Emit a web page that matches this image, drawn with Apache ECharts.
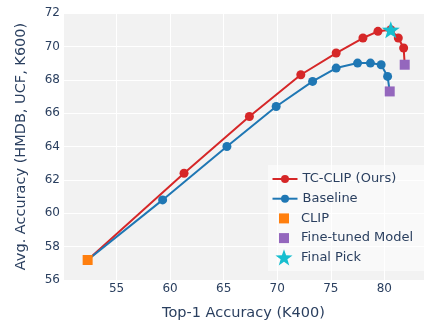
<!DOCTYPE html>
<html>
<head>
<meta charset="utf-8">
<script src="https://cdn.jsdelivr.net/npm/echarts@6/dist/echarts.min.js"></script>
<style>html,body{margin:0;padding:0;background:#fff;}#c{width:424px;height:320px;}</style>
</head>
<body>
<div id="c"></div>
<script>
// Data
const tcX = [52.3, 61.3, 67.4, 72.2, 75.5, 78.0, 79.4, 80.6, 81.3, 81.8, 81.9];
const tcY = [57.2, 62.4, 65.8, 68.3, 69.6, 70.5, 70.9, 71.0, 70.5, 69.9, 68.9];
const baseX = [52.3, 59.3, 65.3, 69.9, 73.3, 75.5, 77.5, 78.7, 79.7, 80.3, 80.5];
const baseY = [57.2, 60.8, 64.0, 66.4, 67.9, 68.7, 69.0, 69.0, 68.9, 68.2, 67.3];
const clipPt = [[52.3, 57.2]];
const finetunedPts = [[81.9, 68.9], [80.5, 67.3]];
const finalPick = [[80.6, 71.0]];
const legendNames = ['TC-CLIP (Ours)', 'Baseline', 'CLIP', 'Fine-tuned Model', 'Final Pick'];

const FONT = 'DejaVu Sans';
const TXT = '#2a3f5f';
const STAR = 'path://M0,-10L2.35,-3.24L9.51,-3.09L3.8,1.24L5.88,8.09L0,4L-5.88,8.09L-3.8,1.24L-9.51,-3.09L-2.35,-3.24Z';
const SQUARE = 'path://M0,0L1,0L1,1L0,1Z';

function lineData(xs, ys) {
  return xs.map((x, i) => {
    const d = { value: [x, ys[i]] };
    if (i === 0 || i === xs.length - 1) d.symbol = 'none';
    return d;
  });
}

// legend layout: icon centred at x=284, text starting at x~301
const legendCenters = [179, 198.7, 218.4, 238.1, 257.8];
const legendIcons = [null, null, SQUARE, SQUARE, STAR];
const legendW = [25, 25, 10, 10, 17];
const legendH = [10, 10, 10, 10, 17];
const legends = legendNames.map((n, i) => {
  const w = legendW[i], h = legendH[i];
  const item = legendIcons[i] ? { name: n, icon: legendIcons[i] } : { name: n };
  const left = 284 - w / 2;
  return {
    orient: 'vertical', left: left, top: legendCenters[i] - Math.max(h, 13) / 2, padding: 0,
    itemWidth: w, itemHeight: h,
    data: [item],
    textStyle: { fontFamily: FONT, fontSize: 13, color: TXT, padding: [0, 0, 0, Math.max(0, 301 - (left + w + 5))] }
  };
});

const chart = echarts.init(document.getElementById('c'), null, { renderer: 'canvas' });
chart.setOption({
  animation: false,
  textStyle: { fontFamily: FONT },
  grid: { left: 63, top: 13, right: 0, bottom: 40, outerBoundsMode: 'none', containLabel: false, show: true, backgroundColor: '#f2f2f2', borderWidth: 0 },
  xAxis: {
    type: 'value', min: 50, max: 83.7, interval: 5,
    name: 'Top-1 Accuracy (K400)', nameLocation: 'middle', nameGap: 26,
    nameTextStyle: { fontFamily: FONT, fontSize: 14.5, color: TXT },
    axisLine: { show: false }, axisTick: { show: false },
    axisLabel: { showMinLabel: false, showMaxLabel: false, margin: 3, fontFamily: FONT, fontSize: 12, color: TXT },
    splitLine: { show: true, lineStyle: { color: '#ffffff', width: 1 } }
  },
  yAxis: {
    type: 'value', min: 56, max: 72, interval: 2,
    name: 'Avg. Accuracy (HMDB, UCF, K600)', nameLocation: 'middle', nameGap: 34,
    nameTextStyle: { fontFamily: FONT, fontSize: 14.5, color: TXT },
    axisLine: { show: false }, axisTick: { show: false },
    axisLabel: { margin: 3, fontFamily: FONT, fontSize: 12, color: TXT },
    splitLine: { show: true, lineStyle: { color: '#ffffff', width: 1 } }
  },
  graphic: [{
    type: 'rect', z: 3, left: 268, top: 165,
    shape: { width: 156, height: 106 },
    style: { fill: 'rgba(255,255,255,0.5)' }
  }],
  legend: legends,
  series: [
    {
      name: legendNames[0], type: 'line', z: 2,
      data: lineData(tcX, tcY),
      symbol: 'circle', symbolSize: 9,
      lineStyle: { color: '#d62728', width: 2 },
      itemStyle: { color: '#d62728', opacity: 1 }
    },
    {
      name: legendNames[1], type: 'line', z: 2,
      data: lineData(baseX, baseY),
      symbol: 'circle', symbolSize: 9,
      lineStyle: { color: '#1f77b4', width: 2 },
      itemStyle: { color: '#1f77b4', opacity: 1 }
    },
    {
      name: legendNames[2], type: 'scatter', z: 3,
      data: clipPt, symbol: 'rect', symbolSize: 10,
      itemStyle: { color: '#ff7f0e', opacity: 1 }
    },
    {
      name: legendNames[3], type: 'scatter', z: 3,
      data: finetunedPts, symbol: 'rect', symbolSize: 10,
      itemStyle: { color: '#9467bd', opacity: 1 }
    },
    {
      name: legendNames[4], type: 'scatter', z: 3,
      data: finalPick, symbol: STAR, symbolSize: 18, symbolKeepAspect: true,
      itemStyle: { color: '#17becf', opacity: 1 }
    }
  ]
});
</script>
</body>
</html>
